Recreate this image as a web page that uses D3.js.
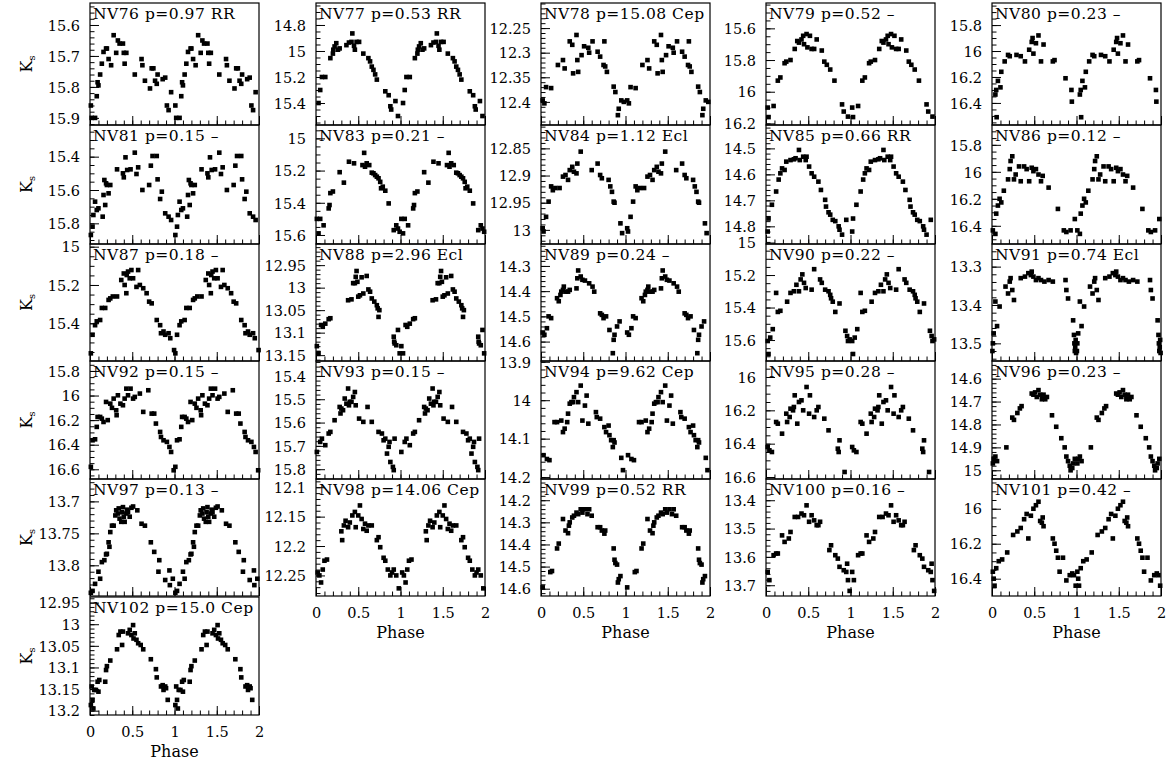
<!DOCTYPE html>
<html><head><meta charset="utf-8">
<script src="https://cdn.jsdelivr.net/npm/d3@7"></script>
<style>
body{margin:0;background:#fff}
svg text{font-family:"DejaVu Serif",serif;fill:#000}
</style></head>
<body><svg id="c" width="1172" height="764"></svg>
<script>
// ---------- data: [phase, Ks] pairs (phase 0-1, plotted again at phase+1) ----------
const NV76=[[0.01,15.86],[0.02,15.90],[0.06,15.90],[0.08,15.83],[0.09,15.785],[0.10,15.795],[0.12,15.76],[0.14,15.725],[0.16,15.687],[0.19,15.676],[0.20,15.676],[0.22,15.71],[0.25,15.73],[0.28,15.633],[0.31,15.69],[0.33,15.65],[0.35,15.66],[0.39,15.66],[0.40,15.69],[0.41,15.725],[0.43,15.69],[0.53,15.76],[0.61,15.71],[0.62,15.73],[0.65,15.78],[0.71,15.805],[0.73,15.74],[0.75,15.74],[0.77,15.78],[0.79,15.79],[0.80,15.76],[0.86,15.775],[0.89,15.77],[0.91,15.86],[0.93,15.875],[0.96,15.817]];
const NV77=[[0.03,15.40],[0.05,15.30],[0.07,15.20],[0.11,15.20],[0.17,15.055],[0.20,15.02],[0.205,14.99],[0.22,14.965],[0.24,14.94],[0.26,14.99],[0.28,14.98],[0.36,14.955],[0.39,14.935],[0.42,14.93],[0.43,14.865],[0.45,14.96],[0.46,14.99],[0.48,14.93],[0.51,14.93],[0.56,15.02],[0.62,15.055],[0.64,15.08],[0.66,15.12],[0.68,15.145],[0.70,15.18],[0.72,15.22],[0.82,15.31],[0.86,15.34],[0.88,15.425],[0.89,15.45],[0.94,15.385],[0.97,15.50]];
const NV78=[[0.02,12.397],[0.04,12.403],[0.06,12.37],[0.12,12.372],[0.20,12.325],[0.26,12.315],[0.28,12.332],[0.34,12.277],[0.37,12.284],[0.38,12.342],[0.42,12.264],[0.43,12.315],[0.44,12.339],[0.48,12.305],[0.51,12.287],[0.56,12.29],[0.57,12.30],[0.61,12.277],[0.67,12.298],[0.70,12.308],[0.74,12.325],[0.75,12.277],[0.76,12.328],[0.78,12.339],[0.86,12.369],[0.88,12.38],[0.91,12.427],[0.92,12.414],[0.95,12.397],[0.98,12.40]];
const NV79=[[0.02,16.10],[0.03,16.16],[0.09,16.09],[0.14,15.93],[0.17,15.91],[0.22,15.82],[0.24,15.81],[0.29,15.80],[0.34,15.73],[0.37,15.68],[0.39,15.69],[0.42,15.67],[0.44,15.647],[0.45,15.70],[0.48,15.636],[0.49,15.72],[0.52,15.647],[0.54,15.73],[0.57,15.73],[0.60,15.67],[0.66,15.74],[0.69,15.81],[0.72,15.83],[0.76,15.86],[0.81,15.93],[0.90,16.08],[0.92,16.125],[0.97,16.157]];
const NV80=[[0.04,16.335],[0.05,16.30],[0.055,16.51],[0.07,16.23],[0.10,16.28],[0.11,16.16],[0.15,16.08],[0.19,16.03],[0.21,16.04],[0.29,16.03],[0.34,16.04],[0.39,16.08],[0.44,15.99],[0.47,15.93],[0.48,15.90],[0.49,16.02],[0.52,15.94],[0.55,15.88],[0.58,16.08],[0.61,15.95],[0.72,16.08],[0.74,16.07],[0.87,16.21],[0.94,16.30],[0.945,16.39]];
const NV81=[[0.01,15.87],[0.03,15.82],[0.04,15.75],[0.06,15.67],[0.08,15.72],[0.10,15.71],[0.15,15.76],[0.16,15.63],[0.17,15.54],[0.18,15.69],[0.19,15.56],[0.20,15.57],[0.22,15.62],[0.24,15.57],[0.32,15.476],[0.39,15.50],[0.40,15.524],[0.42,15.404],[0.44,15.48],[0.48,15.476],[0.53,15.376],[0.55,15.504],[0.57,15.464],[0.62,15.60],[0.70,15.57],[0.72,15.454],[0.74,15.396],[0.79,15.396],[0.80,15.536],[0.83,15.654],[0.85,15.61],[0.89,15.74],[0.93,15.76],[0.96,15.78]];
const NV83=[[0.01,15.50],[0.03,15.59],[0.05,15.50],[0.09,15.54],[0.15,15.435],[0.16,15.414],[0.17,15.34],[0.20,15.33],[0.28,15.21],[0.33,15.275],[0.39,15.145],[0.45,15.155],[0.55,15.166],[0.57,15.09],[0.58,15.176],[0.60,15.155],[0.63,15.166],[0.66,15.213],[0.68,15.217],[0.70,15.228],[0.72,15.238],[0.74,15.248],[0.76,15.27],[0.77,15.31],[0.79,15.30],[0.82,15.325],[0.86,15.404],[0.92,15.57],[0.95,15.54],[0.97,15.56],[0.99,15.58]];
const NV84=[[0.02,12.997],[0.03,13.003],[0.06,12.976],[0.09,12.948],[0.12,12.92],[0.14,12.927],[0.17,12.923],[0.22,12.923],[0.26,12.902],[0.29,12.899],[0.32,12.908],[0.34,12.89],[0.37,12.884],[0.39,12.893],[0.42,12.896],[0.43,12.878],[0.47,12.856],[0.60,12.89],[0.67,12.878],[0.70,12.899],[0.72,12.905],[0.80,12.908],[0.82,12.92],[0.84,12.93],[0.86,12.948],[0.87,12.95],[0.94,12.988],[0.96,13.006]];
const NV85=[[0.02,14.82],[0.03,14.77],[0.07,14.717],[0.12,14.666],[0.15,14.62],[0.17,14.596],[0.19,14.577],[0.22,14.583],[0.24,14.551],[0.29,14.545],[0.33,14.542],[0.35,14.538],[0.39,14.506],[0.40,14.545],[0.44,14.532],[0.47,14.545],[0.48,14.532],[0.51,14.57],[0.54,14.596],[0.57,14.609],[0.62,14.628],[0.65,14.66],[0.70,14.698],[0.71,14.724],[0.74,14.746],[0.76,14.755],[0.79,14.775],[0.82,14.78],[0.86,14.80],[0.87,14.813],[0.90,14.832],[0.95,14.775]];
const NV86=[[0.01,16.434],[0.04,16.46],[0.05,16.31],[0.07,16.25],[0.09,16.20],[0.11,16.227],[0.14,16.14],[0.19,16.056],[0.21,15.98],[0.22,15.92],[0.24,15.885],[0.26,16.056],[0.28,16.02],[0.32,15.96],[0.34,16.07],[0.38,15.96],[0.41,15.98],[0.44,16.07],[0.47,15.97],[0.49,15.995],[0.52,15.98],[0.55,16.02],[0.58,16.07],[0.60,16.03],[0.67,16.117],[0.78,16.275],[0.85,16.434],[0.88,16.446],[0.93,16.434],[0.98,16.35]];
const NV87=[[0.01,15.557],[0.03,15.46],[0.06,15.41],[0.08,15.39],[0.12,15.383],[0.14,15.32],[0.18,15.32],[0.22,15.278],[0.24,15.27],[0.27,15.26],[0.32,15.26],[0.37,15.174],[0.40,15.14],[0.41,15.20],[0.43,15.243],[0.435,15.148],[0.45,15.13],[0.47,15.165],[0.49,15.122],[0.51,15.165],[0.55,15.21],[0.57,15.122],[0.59,15.20],[0.63,15.217],[0.67,15.243],[0.70,15.287],[0.73,15.296],[0.79,15.383],[0.83,15.41],[0.84,15.452],[0.87,15.443],[0.89,15.46],[0.93,15.452],[0.95,15.478],[0.995,15.54]];
const NV88=[[0.01,13.13],[0.03,13.146],[0.06,13.083],[0.08,13.087],[0.11,13.08],[0.15,13.07],[0.17,13.068],[0.38,13.028],[0.42,13.026],[0.44,12.99],[0.46,12.99],[0.47,12.976],[0.48,12.963],[0.49,12.987],[0.50,13.02],[0.52,13.017],[0.54,12.977],[0.56,13.013],[0.60,12.974],[0.62,13.004],[0.64,13.009],[0.66,13.024],[0.69,13.031],[0.72,13.039],[0.73,13.046],[0.74,13.065],[0.75,13.05],[0.92,13.109],[0.925,13.12],[0.93,13.124],[0.95,13.128],[0.97,13.094],[0.99,13.146]];
const NV89=[[0.02,14.564],[0.04,14.573],[0.07,14.547],[0.09,14.50],[0.12,14.507],[0.19,14.428],[0.21,14.44],[0.23,14.415],[0.24,14.402],[0.26,14.395],[0.27,14.382],[0.29,14.402],[0.32,14.402],[0.34,14.395],[0.42,14.389],[0.43,14.349],[0.44,14.318],[0.47,14.342],[0.49,14.355],[0.52,14.358],[0.57,14.369],[0.61,14.382],[0.63,14.402],[0.70,14.488],[0.72,14.494],[0.74,14.507],[0.77,14.50],[0.81,14.554],[0.85,14.646],[0.86,14.593],[0.87,14.573],[0.90,14.54],[0.93,14.52]];
const NV90=[[0.02,15.606],[0.03,15.686],[0.05,15.585],[0.08,15.533],[0.12,15.31],[0.14,15.427],[0.17,15.42],[0.25,15.364],[0.29,15.31],[0.33,15.30],[0.36,15.26],[0.39,15.30],[0.41,15.227],[0.43,15.196],[0.45,15.248],[0.47,15.28],[0.54,15.29],[0.57,15.164],[0.64,15.227],[0.66,15.248],[0.70,15.29],[0.74,15.30],[0.76,15.322],[0.77,15.343],[0.79,15.364],[0.82,15.427],[0.87,15.375],[0.94,15.543],[0.96,15.575],[0.97,15.606],[0.99,15.596]];
const NV91=[[0.005,13.52],[0.01,13.50],[0.02,13.474],[0.04,13.391],[0.06,13.455],[0.09,13.404],[0.16,13.352],[0.19,13.37],[0.21,13.339],[0.22,13.33],[0.24,13.361],[0.26,13.387],[0.34,13.33],[0.39,13.326],[0.43,13.317],[0.46,13.322],[0.47,13.313],[0.49,13.326],[0.52,13.335],[0.55,13.33],[0.58,13.335],[0.62,13.339],[0.67,13.335],[0.72,13.339],[0.87,13.335],[0.88,13.361],[0.90,13.383],[0.96,13.44],[0.97,13.478],[0.975,13.50],[0.98,13.52],[0.985,13.51],[0.99,13.491],[0.995,13.525]];
const NV92=[[0.01,16.58],[0.03,16.364],[0.06,16.356],[0.08,16.255],[0.09,16.174],[0.12,16.174],[0.14,16.188],[0.16,16.215],[0.19,16.052],[0.21,16.20],[0.24,16.066],[0.26,16.10],[0.28,16.025],[0.31,16.12],[0.315,16.16],[0.33,15.998],[0.36,16.066],[0.39,16.079],[0.41,16.025],[0.43,15.944],[0.45,15.998],[0.48,15.944],[0.51,16.025],[0.53,16.011],[0.59,15.984],[0.63,16.133],[0.69,15.957],[0.73,16.147],[0.76,16.147],[0.78,16.228],[0.83,16.296],[0.84,16.337],[0.87,16.364],[0.91,16.377],[0.94,16.418],[0.96,16.459],[0.99,16.608]];
const NV93=[[0.01,15.726],[0.05,15.683],[0.07,15.669],[0.11,15.697],[0.15,15.647],[0.17,15.64],[0.22,15.59],[0.28,15.533],[0.29,15.561],[0.30,15.54],[0.32,15.547],[0.34,15.497],[0.36,15.519],[0.38,15.454],[0.39,15.526],[0.40,15.511],[0.42,15.511],[0.44,15.49],[0.46,15.469],[0.47,15.526],[0.51,15.583],[0.56,15.597],[0.61,15.533],[0.66,15.597],[0.74,15.64],[0.78,15.647],[0.80,15.676],[0.82,15.669],[0.84,15.733],[0.86,15.704],[0.87,15.683],[0.88,15.769],[0.91,15.79],[0.92,15.804],[0.93,15.669]];
const NV94=[[0.03,14.143],[0.07,14.153],[0.10,14.156],[0.16,14.057],[0.19,14.057],[0.24,14.053],[0.26,14.083],[0.28,14.074],[0.31,14.057],[0.32,14.035],[0.34,14.009],[0.36,14.005],[0.38,14.005],[0.39,13.992],[0.42,13.979],[0.44,14.005],[0.47,13.962],[0.49,14.053],[0.52,14.014],[0.54,13.988],[0.56,14.061],[0.65,14.031],[0.66,14.044],[0.70,14.048],[0.75,14.07],[0.77,14.083],[0.80,14.066],[0.81,14.091],[0.83,14.104],[0.85,14.122],[0.86,14.104],[0.87,14.11],[0.95,14.15],[0.97,14.182]];
const NV95=[[0.02,16.42],[0.04,16.44],[0.07,16.45],[0.12,16.27],[0.14,16.28],[0.19,16.34],[0.24,16.22],[0.25,16.27],[0.28,16.24],[0.29,16.19],[0.32,16.20],[0.33,16.18],[0.34,16.11],[0.37,16.28],[0.39,16.15],[0.42,16.14],[0.44,16.20],[0.48,16.06],[0.51,16.22],[0.52,16.11],[0.57,16.24],[0.60,16.20],[0.62,16.18],[0.69,16.25],[0.74,16.32],[0.85,16.43],[0.86,16.45],[0.87,16.38],[0.93,16.57]];
const NV96=[[0.01,14.97],[0.02,14.95],[0.04,14.94],[0.06,14.96],[0.17,14.90],[0.24,14.77],[0.26,14.78],[0.30,14.75],[0.33,14.73],[0.35,14.72],[0.47,14.665],[0.49,14.67],[0.51,14.66],[0.53,14.68],[0.55,14.65],[0.57,14.67],[0.59,14.69],[0.61,14.67],[0.63,14.69],[0.65,14.68],[0.71,14.76],[0.76,14.81],[0.82,14.86],[0.86,14.90],[0.88,14.94],[0.90,14.96],[0.92,14.98],[0.93,15.00],[0.95,14.99],[0.96,14.97],[0.98,14.95]];
const NV97=[[0.01,13.843],[0.03,13.84],[0.06,13.829],[0.10,13.81],[0.12,13.821],[0.14,13.795],[0.17,13.792],[0.19,13.783],[0.20,13.782],[0.22,13.764],[0.23,13.771],[0.24,13.748],[0.26,13.738],[0.28,13.738],[0.30,13.722],[0.31,13.714],[0.33,13.719],[0.34,13.711],[0.35,13.727],[0.37,13.732],[0.38,13.717],[0.39,13.709],[0.40,13.724],[0.41,13.732],[0.43,13.719],[0.44,13.713],[0.45,13.717],[0.47,13.724],[0.49,13.71],[0.51,13.708],[0.56,13.714],[0.61,13.735],[0.65,13.738],[0.72,13.764],[0.76,13.779],[0.81,13.81],[0.82,13.792],[0.89,13.823],[0.94,13.808],[0.945,13.831],[0.98,13.821]];
const NV98=[[0.02,12.245],[0.04,12.25],[0.06,12.262],[0.08,12.24],[0.10,12.225],[0.13,12.223],[0.30,12.175],[0.31,12.19],[0.33,12.165],[0.35,12.157],[0.38,12.168],[0.40,12.16],[0.43,12.148],[0.46,12.142],[0.47,12.168],[0.50,12.148],[0.52,12.131],[0.54,12.154],[0.56,12.171],[0.58,12.162],[0.60,12.174],[0.62,12.165],[0.66,12.165],[0.72,12.19],[0.74,12.185],[0.76,12.202],[0.80,12.22],[0.82,12.225],[0.85,12.24],[0.88,12.25],[0.90,12.245],[0.92,12.24],[0.95,12.25],[0.98,12.272]];
const NV99=[[0.02,14.594],[0.11,14.525],[0.13,14.52],[0.19,14.418],[0.21,14.396],[0.26,14.285],[0.29,14.337],[0.32,14.349],[0.33,14.315],[0.34,14.30],[0.37,14.278],[0.39,14.27],[0.42,14.256],[0.44,14.263],[0.47,14.241],[0.49,14.256],[0.52,14.241],[0.55,14.263],[0.57,14.241],[0.60,14.27],[0.67,14.322],[0.70,14.322],[0.72,14.337],[0.75,14.351],[0.76,14.337],[0.86,14.418],[0.87,14.469],[0.88,14.484],[0.90,14.491],[0.91,14.572],[0.92,14.557],[0.94,14.543]];
const NV100=[[0.02,13.653],[0.04,13.682],[0.09,13.594],[0.12,13.588],[0.14,13.588],[0.19,13.524],[0.22,13.547],[0.27,13.535],[0.29,13.512],[0.34,13.459],[0.38,13.459],[0.42,13.447],[0.45,13.453],[0.48,13.418],[0.51,13.476],[0.54,13.453],[0.57,13.471],[0.60,13.488],[0.62,13.488],[0.64,13.476],[0.75,13.576],[0.77,13.559],[0.82,13.594],[0.85,13.606],[0.87,13.635],[0.92,13.647],[0.95,13.653],[0.96,13.624],[0.97,13.682],[0.99,13.72]];
const NV101=[[0.01,16.36],[0.02,16.40],[0.03,16.44],[0.05,16.34],[0.08,16.30],[0.12,16.29],[0.18,16.25],[0.25,16.15],[0.30,16.13],[0.34,16.11],[0.38,16.06],[0.41,16.03],[0.43,16.17],[0.46,16.04],[0.49,16.00],[0.52,15.98],[0.55,15.96],[0.57,16.07],[0.59,16.08],[0.60,16.05],[0.61,16.10],[0.72,16.17],[0.74,16.20],[0.76,16.24],[0.78,16.28],[0.80,16.36],[0.84,16.28],[0.88,16.41],[0.92,16.38],[0.95,16.37],[0.97,16.38],[0.99,16.44]];
const NV102=[[0.01,13.187],[0.02,13.144],[0.03,13.175],[0.04,13.195],[0.05,13.152],[0.07,13.152],[0.09,13.133],[0.10,13.156],[0.11,13.129],[0.18,13.133],[0.19,13.106],[0.20,13.097],[0.24,13.084],[0.32,13.058],[0.34,13.025],[0.36,13.017],[0.38,13.048],[0.39,13.017],[0.45,13.021],[0.47,13.013],[0.49,13.025],[0.51,13.002],[0.515,13.033],[0.53,13.021],[0.55,13.036],[0.57,13.044],[0.60,13.048],[0.63,13.058],[0.72,13.081],[0.78,13.104],[0.79,13.123],[0.84,13.144],[0.86,13.141],[0.87,13.152],[0.89,13.144],[0.90,13.148],[0.92,13.175]];

const series=[NV76,NV77,NV78,NV79,NV80,NV81,NV83,NV84,NV85,NV86,NV87,NV88,NV89,NV90,NV91,NV92,NV93,NV94,NV95,NV96,NV97,NV98,NV99,NV100,NV101,NV102];
const titles=["NV76 p=0.97 RR","NV77 p=0.53 RR","NV78 p=15.08 Cep","NV79 p=0.52 \u2013","NV80 p=0.23 \u2013",
"NV81 p=0.15 \u2013","NV83 p=0.21 \u2013","NV84 p=1.12 Ecl","NV85 p=0.66 RR","NV86 p=0.12 \u2013",
"NV87 p=0.18 \u2013","NV88 p=2.96 Ecl","NV89 p=0.24 \u2013","NV90 p=0.22 \u2013","NV91 p=0.74 Ecl",
"NV92 p=0.15 \u2013","NV93 p=0.15 \u2013","NV94 p=9.62 Cep","NV95 p=0.28 \u2013","NV96 p=0.23 \u2013",
"NV97 p=0.13 \u2013","NV98 p=14.06 Cep","NV99 p=0.52 RR","NV100 p=0.16 \u2013","NV101 p=0.42 \u2013",
"NV102 p=15.0 Cep"];
// y-axis limits (top, bottom) in magnitudes
const yDomains=[[15.529,15.923],[14.631,15.569],[12.199,12.447],[15.44,16.21],[15.63,16.57],
[15.21,15.924],[14.917,15.656],[12.807,13.026],[14.41,14.868],[15.653,16.535],
[14.986,15.597],[12.903,13.163],[14.213,14.677],[15.009,15.729],[13.241,13.546],
[15.719,16.679],[15.336,15.842],[13.898,14.205],[15.904,16.612],[14.523,15.038],
[13.665,13.848],[12.086,12.285],[14.104,14.633],[13.325,13.738],[15.83,16.499],
[12.937,13.21]];
const yTicks=[[15.6,15.7,15.8,15.9],[14.8,15,15.2,15.4],[12.25,12.3,12.35,12.4],[15.6,15.8,16,16.2],[15.8,16,16.2,16.4],
[15.4,15.6,15.8],[15,15.2,15.4,15.6],[12.85,12.9,12.95,13],[14.5,14.6,14.7,14.8],[15.8,16,16.2,16.4],
[15,15.2,15.4],[12.95,13,13.05,13.1,13.15],[14.3,14.4,14.5,14.6],[15,15.2,15.4,15.6],[13.3,13.4,13.5],
[15.8,16,16.2,16.4,16.6],[15.4,15.5,15.6,15.7,15.8],[13.9,14,14.1,14.2],[16,16.2,16.4,16.6],[14.6,14.7,14.8,14.9,15],
[13.7,13.75,13.8],[12.1,12.15,12.2,12.25],[14.2,14.3,14.4,14.5,14.6],[13.4,13.5,13.6,13.7],[16,16.2,16.4],
[12.95,13,13.05,13.1,13.15,13.2]];
const yMinorStep=[0.02,0.05,0.01,0.05,0.05, 0.05,0.05,0.01,0.02,0.05, 0.05,0.01,0.02,0.05,0.02, 0.05,0.02,0.02,0.05,0.02, 0.01,0.01,0.02,0.02,0.05, 0.01];
const phaseDomain=[0,2];
const phaseTicks=[0,0.5,1,1.5,2];
const phaseMinorStep=0.1;
const labelledX=[21,22,23,24,25];

// ---------- layout ----------
const colX=[90,316,541,766,992], W=169;
const rowTop=[3,125,244,361,479,597], rowBot=[125,244,361,479,596,715];
const svg=d3.select("#c");
svg.append("rect").attr("width",1172).attr("height",764).attr("fill","#fff");

function minorVals(lo,hi,step){
  const a=Math.min(lo,hi), b=Math.max(lo,hi), out=[];
  for(let k=Math.ceil(a/step-1e-6);k<=Math.floor(b/step+1e-6);k++) out.push(+(k*step).toFixed(4));
  return out;
}
const fmt=d=>String(+d.toFixed(3));

series.forEach((data,i)=>{
  const col=i%5, row=Math.floor(i/5);
  const x0=colX[col], x1=x0+W, y0=rowTop[row], y1=rowBot[row];
  const x=d3.scaleLinear().domain(phaseDomain).range([x0,x1]);
  const y=d3.scaleLinear().domain(yDomains[i]).range([y0,y1]);
  const g=svg.append("g");

  // points (each observation plotted at phase and phase+1)
  const pts=data.flatMap(d=>[[d[0],d[1]],[d[0]+1,d[1]]]);
  const s=4.6;
  g.selectAll("rect.pt").data(pts).join("rect").attr("class","pt")
    .attr("x",d=>x(d[0])-s/2).attr("y",d=>y(d[1])-s/2)
    .attr("width",s).attr("height",s).attr("fill","#000");

  // left axis
  const la=g.append("g").attr("transform",`translate(${x0},0)`)
    .call(d3.axisLeft(y).tickValues(yTicks[i]).tickSize(-9).tickPadding(10).tickFormat(fmt));
  la.select(".domain").remove();
  la.attr("font-size",14.5).attr("font-family","DejaVu Serif");
  la.selectAll("text").attr("dy","0.36em");
  const lm=g.append("g").attr("transform",`translate(${x0},0)`)
    .call(d3.axisLeft(y).tickValues(minorVals(yDomains[i][0],yDomains[i][1],yMinorStep[i])).tickSize(-4.5).tickFormat(""));
  lm.select(".domain").remove();

  // bottom axis
  const lab=labelledX.includes(i);
  const ba=g.append("g").attr("transform",`translate(0,${y1})`)
    .call(d3.axisBottom(x).tickValues(phaseTicks).tickSize(-9).tickPadding(12).tickFormat(lab?fmt:""));
  ba.select(".domain").remove();
  ba.attr("font-size",14.5).attr("font-family","DejaVu Serif");
  const bm=g.append("g").attr("transform",`translate(0,${y1})`)
    .call(d3.axisBottom(x).tickValues(minorVals(0,2,phaseMinorStep)).tickSize(-4.5).tickFormat(""));
  bm.select(".domain").remove();
  g.selectAll(".tick line").attr("stroke","#000").attr("stroke-width",1);

  // frame
  g.append("rect").attr("x",x0).attr("y",y0).attr("width",W).attr("height",y1-y0)
    .attr("fill","none").attr("stroke","#000").attr("stroke-width",1.2);

  // title
  g.append("text").attr("x",x0+3).attr("y",y0+16).attr("font-size",15.5)
    .attr("letter-spacing",0.5).text(titles[i]);

  // Ks label
  if(col===0){
    const t=g.append("text").attr("transform",`translate(32,${(y0+y1)/2}) rotate(-90)`)
      .attr("text-anchor","middle");
    t.append("tspan").attr("font-size",16).text("K");
    t.append("tspan").attr("font-size",10).attr("dy",3).text("s");
  }
  if(lab){
    g.append("text").attr("x",(x0+x1)/2).attr("y",y1+42).attr("text-anchor","middle")
      .attr("font-size",16).text("Phase");
  }
});
</script></body></html>
